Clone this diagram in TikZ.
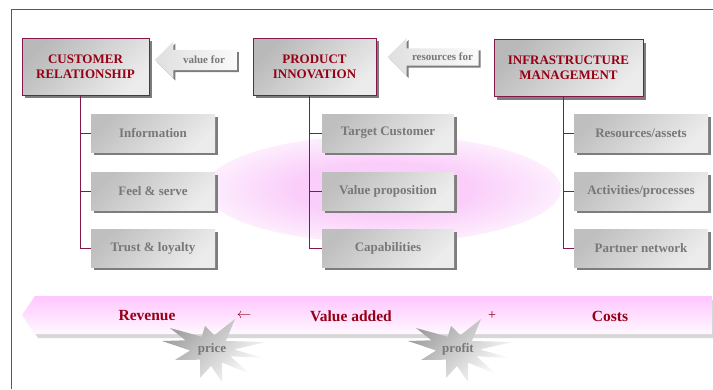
\documentclass[tikz,border=0pt]{standalone}
\usepackage{fontspec}
\setmainfont{Liberation Serif}
\usetikzlibrary{shapes.arrows,shadows}
\definecolor{titelrot}{RGB}{150,0,20}
\definecolor{linienrot}{RGB}{130,25,75}
\definecolor{textgrau}{RGB}{120,120,120}
\definecolor{schatten}{RGB}{125,125,125}
\definecolor{rosa}{RGB}{250,205,250}
\definecolor{rosahell}{RGB}{253,238,253}
\definecolor{bandrosa}{RGB}{255,198,255}
\definecolor{bandweiss}{RGB}{255,248,255}
\definecolor{bandschatten}{RGB}{215,215,215}
\pgfdeclareradialshading{glow}{\pgfpoint{0bp}{0bp}}{color(0bp)=(rosa); color(12bp)=(rosa); color(25bp)=(rosahell); color(50bp)=(white)}
\tikzset{
	hauptbox/.style={draw=linienrot, line width=0.8pt, top color=gray!55, bottom color=gray!15, shading angle=45, minimum height=57pt, inner sep=0pt, align=center, text=titelrot, font=\fontsize{13}{15}\selectfont\bfseries, drop shadow={shadow xshift=3pt,shadow yshift=-3pt,fill=schatten,opacity=1}},
	unterbox/.style={top color=gray!50, bottom color=gray!15, shading angle=45, minimum height=38pt, inner sep=0pt, text=textgrau, font=\fontsize{13}{15}\selectfont\bfseries, drop shadow={shadow xshift=3pt,shadow yshift=-3pt,fill=schatten,opacity=1}},
	pfeil/.style={single arrow, shape border rotate=180, single arrow head indent=0pt, inner sep=0pt, left color=gray!25, right color=gray!4, text=textgrau, font=\fontsize{11}{13}\selectfont\bfseries, drop shadow={shadow xshift=2pt,shadow yshift=-2pt,fill=schatten,opacity=1}},
	baum/.style={draw=linienrot, line width=0.8pt},
	bandtext/.style={text=titelrot, font=\fontsize{15.5}{17}\selectfont\bfseries},
	sterntext/.style={text=textgrau, font=\fontsize{13}{15}\selectfont\bfseries}
}
\begin{document}
\begin{tikzpicture}[x=1pt,y=-1pt]
	\useasboundingbox (0,0) rectangle (713,389);
	%\draw[step=10,gray!15] (0,0) grid (713,389); %Raster
	\draw[line width=1pt,gray!70!black] (11,389) -- (11,9) -- (713,9);
	% rosa Hintergrund
	\shade[shading=glow] (383,189) ellipse [x radius=178pt, y radius=54pt];
	% obere Reihe
	\node[hauptbox, minimum width=127pt] (cr) at (85.5,66.5) {CUSTOMER\\RELATIONSHIP};
	\node[hauptbox, minimum width=123pt] (pi) at (314.5,66.5) {PRODUCT\\INNOVATION};
	\node[hauptbox, minimum width=149pt] (im) at (568.5,68) {INFRASTRUCTURE\\MANAGEMENT};
	\node[pfeil, minimum height=82pt, minimum width=37pt, single arrow head extend=3.5pt] (wertfuer) at (201,60) {\hspace*{6pt}value for};
	\node[pfeil, minimum height=91pt, minimum width=38pt, single arrow head extend=5pt] (resfuer) at (437.5,57) {\hspace*{10pt}resources for};
	% Unterpunkte
	\node[unterbox, minimum width=124pt] (info) at (153,133) {Information};
	\node[unterbox, minimum width=124pt] (feel) at (153,191) {Feel \& serve};
	\node[unterbox, minimum width=124pt] (trust) at (153,248) {Trust \& loyalty};
	\node[unterbox, minimum width=132pt] (target) at (388,133) {Target Customer};
	\node[unterbox, minimum width=132pt] (valprop) at (388,191) {Value proposition};
	\node[unterbox, minimum width=132pt] (capab) at (388,248) {Capabilities};
	\node[unterbox, minimum width=134pt] (resrc) at (641,133) {Resources/assets};
	\node[unterbox, minimum width=134pt] (activ) at (641,191) {Activities/processes};
	\node[unterbox, minimum width=134pt] (partner) at (641,248) {Partner network};
	\foreach \oben/\unten in {cr/info,cr/feel,cr/trust,pi/target,pi/valprop,pi/capab,im/resrc,im/activ,im/partner}
		\draw[baum] ([xshift=-5pt]\oben.south) |- (\unten.west);
	% Band unten
	\fill[bandschatten] (25,319) -- (38,300) -- (715,300) -- (715,338) -- (38,338) -- cycle;
	\shade[top color=bandrosa, bottom color=bandweiss] (22,315) -- (35,296) -- (712,296) -- (712,334) -- (35,334) -- cycle;
	\node[bandtext] (revenue) at (147,316) {Revenue};
	\node[text=titelrot, font=\fontsize{15}{17}\selectfont] (pfeillinks) at (244,316) {$\leftarrow$};
	\node[bandtext] (valadd) at (351,316) {Value added};
	\node[text=titelrot, font=\fontsize{14}{16}\selectfont] (plus) at (492,316) {+};
	\node[bandtext] (costs) at (610,316) {Costs};
	% Sterne
	\foreach \sx/\stxt in {212/price,458/profit}{
		\begin{scope}[shift={(\sx,349)}]
			\shade[top color=gray!75, bottom color=white, shading angle=45] (23,-30) -- (13.9,-8) -- (54,-7) -- (22,0.5) -- (52,9) -- (18.6,7.3) -- (38,25) -- (10.2,13.6) -- (10,33) -- (-0.9,17) -- (-12,29) -- (-11.9,10.7) -- (-37,11) -- (-21.9,1.5) -- (-50,-8) -- (-26.6,-8.7) -- (-42,-21) -- (-10.3,-12.3) -- (-7,-23) -- (2.4,-13.8) -- cycle;
			\node[sterntext] (\stxt) at (0,0) {\stxt};
		\end{scope}
	}
\end{tikzpicture}
\end{document}
